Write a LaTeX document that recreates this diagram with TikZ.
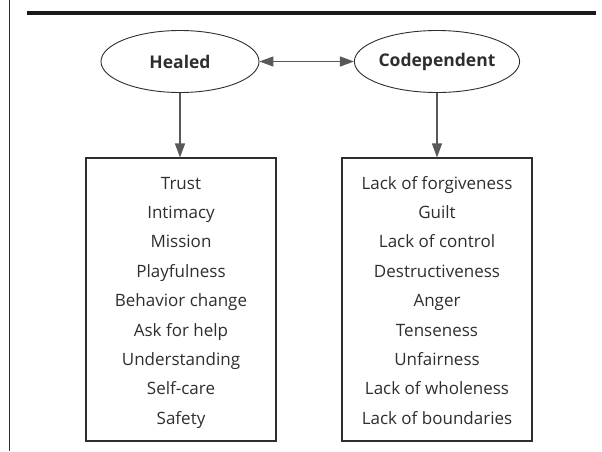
\documentclass[tikz,border=0pt]{standalone}
\usepackage{fontspec}
\setmainfont{Open Sans}
\usetikzlibrary{shapes.geometric,arrows.meta}
\definecolor{ink}{HTML}{2E2E2E}
\tikzset{
	oval/.style = {ellipse, draw = ink, line width = .9pt, minimum width = 158pt, minimum height = 62pt, inner sep = 0pt, font = \fontsize{17.5}{20}\selectfont\bfseries, text = ink},
	listbox/.style = {rectangle, draw = ink, line width = 1.1pt, minimum width = 190pt, minimum height = 283pt, inner sep = 0pt},
	listtext/.style = {align = center, inner sep = 0pt, anchor = base, font = \fontsize{17}{29.4}\selectfont, text = ink},
	link/.style = {draw = ink!80, line width = 1.2pt, -{Triangle[length = 14pt, width = 10pt]}}
}
\begin{document}
\begin{tikzpicture}[x = 1pt, y = -1pt]
	\useasboundingbox (0,0) rectangle (602,451);
	\draw[line width = 1.3pt, ink] (9.5,0)--(9.5,451); % side rule
	\draw[line width = 4pt, black!90] (27,13)--(596,13); % top rule
	\node[oval] (healed) at (180,61.5) {Healed};
	\node[oval] (codep) at (437,61.5) {Codependent};
	\node[listbox] (healedlist) at (181,299.5) {};
	\node[listbox] (codeplist) at (437,299.5) {};
	% base of the lists is the last line
	\node[listtext] (healedtext) at (181,424.2) {Trust\\Intimacy\\Mission\\Playfulness\\Behavior change\\Ask for help\\Understanding\\Self-care\\Safety};
	\node[listtext] (codeptext) at (437,424.2) {Lack of forgiveness\\Guilt\\Lack of control\\Destructiveness\\Anger\\Tenseness\\Unfairness\\Lack of wholeness\\Lack of boundaries};
	\draw[link, {Triangle[length = 14pt, width = 10pt]}-{Triangle[length = 14pt, width = 10pt]}] (healed)--(codep); % both ways
	\draw[link] (healed.south)--(healedlist.north -| healed.south);
	\draw[link] (codep)--(codeplist);
\end{tikzpicture}
\end{document}
